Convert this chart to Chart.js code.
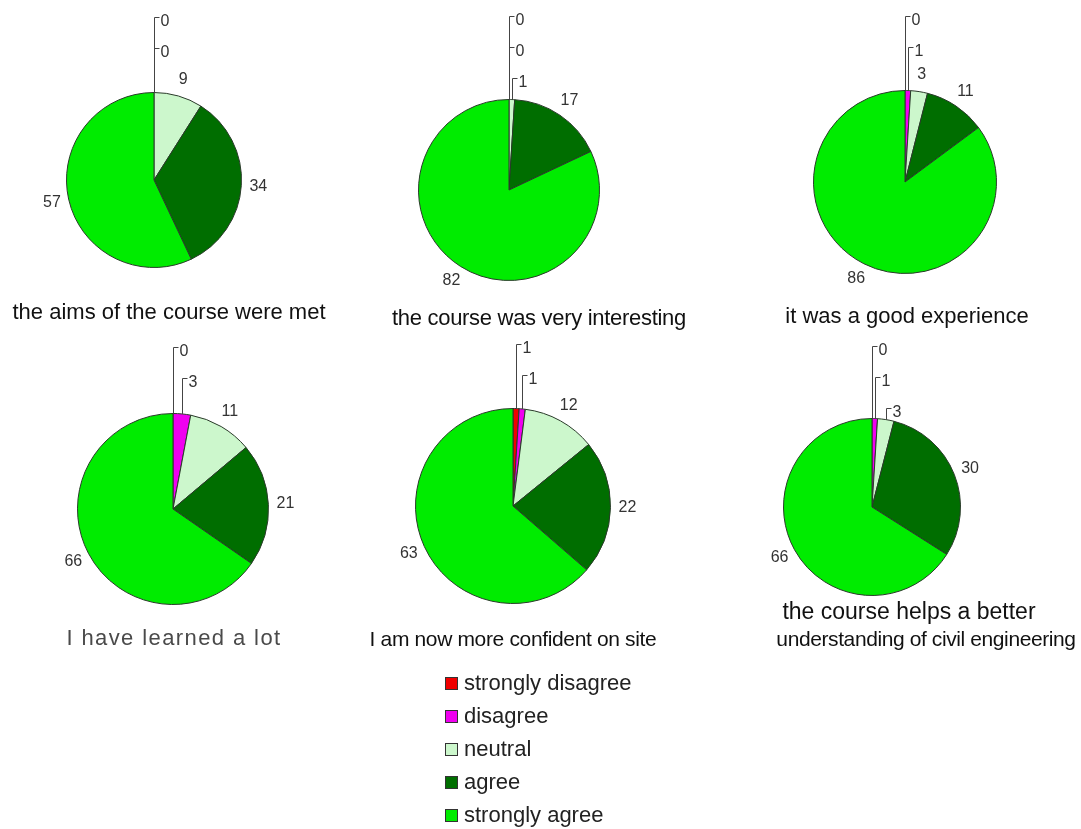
<!DOCTYPE html>
<html>
<head>
<meta charset="utf-8">
<script src="https://cdn.jsdelivr.net/npm/chart.js@4"></script>
<style>
  html, body { margin:0; padding:0; background:#fff; }
  #wrap { position:relative; width:1081px; height:829px; overflow:hidden; font-family:"Liberation Sans", Arial, sans-serif; }
  #wrap canvas { position:absolute; left:0; top:0; }
  .ttl { position:absolute; transform:translate(-50%,-50%); white-space:nowrap; color:#111; line-height:1; }
  .ttl.light { color:#4a4a4a; }
  #legend { position:absolute; left:445px; top:672px; font-size:22px; color:#222; line-height:22px; }
  #legend div { height:33px; display:flex; align-items:flex-start; }
  #legend span.box { width:11px; height:11px; border:1px solid #333; margin-top:5px; margin-right:6px; flex:none; }
</style>
</head>
<body>
<div id="wrap"></div>
<script>
const categories = ['strongly disagree','disagree','neutral','agree','strongly agree'];
const colors = ['#f00000','#f000f0','#ccf7cc','#006e00','#00ec00'];

const titles = [
  ['the aims of the course were met'],
  ['the course was very interesting'],
  ['it was a good experience'],
  ['I have learned a lot'],
  ['I am now more confident on site'],
  ['the course helps a better','understanding of civil engineering']
];

// values per chart, in category order
const aimsMet         = [0, 0, 9, 34, 57];
const veryInteresting = [0, 0, 1, 17, 82];
const goodExperience  = [0, 1, 3, 11, 86];
const learnedALot     = [0, 3, 11, 21, 66];
const moreConfident   = [1, 1, 12, 22, 63];
const betterUnderst   = [0, 1, 3, 30, 66];
const series = [aimsMet, veryInteresting, goodExperience, learnedALot, moreConfident, betterUnderst];

// layout: pie centre/radius, how many leading slices get a leader line, top of leader stack
const W = 1081, H = 829;
const pies = [
  {cx:154, cy:180, r:88, leaders:2, top:17},
  {cx:509, cy:190, r:91, leaders:3, top:16},
  {cx:905, cy:182, r:92, leaders:2, top:16},
  {cx:173, cy:509, r:96, leaders:2, top:347},
  {cx:513, cy:506, r:98, leaders:2, top:344},
  {cx:872, cy:507, r:89, leaders:3, top:346}
];
// title line centres, font size, letter spacing
const titlePos = [
  [[169,312,22,0]], [[539,318,22,-0.3]], [[907,316,22,0]], [[174,638,22,1.4]], [[513,638,21,-0.35]], [[909,611,23,0],[926,638,21,-0.4]]
];

const labelPlugin = {
  id:'pieLabels',
  afterDatasetsDraw(chart){
    const ctx = chart.ctx;
    const cfg = chart.options.plugins.pieLabels;
    const meta = chart.getDatasetMeta(0);
    const data = chart.data.datasets[0].data;
    ctx.save();
    ctx.font = '16px "Liberation Sans", Arial, sans-serif';
    ctx.fillStyle = '#333';
    ctx.strokeStyle = '#444';
    ctx.lineWidth = 1;
    meta.data.forEach((arc, i)=>{
      const p = arc.getProps(['x','y','startAngle','endAngle','outerRadius'], true);
      const mid = (p.startAngle + p.endAngle)/2;
      if(i < cfg.leaders){
        const px = Math.round(p.x + p.outerRadius*Math.cos(mid)) + 0.5;
        const py = p.y + p.outerRadius*Math.sin(mid);
        const ly = Math.round(cfg.top + i*31) + 0.5;
        ctx.beginPath();
        ctx.moveTo(px, py);
        ctx.lineTo(px, ly);
        ctx.lineTo(px+5, ly);
        ctx.stroke();
        ctx.textAlign = 'left';
        ctx.textBaseline = 'middle';
        ctx.fillText(String(data[i]), px+6, ly+4);
      } else {
        const rr = p.outerRadius + 17;
        ctx.textAlign = 'center';
        ctx.textBaseline = 'middle';
        ctx.fillText(String(data[i]), p.x + rr*Math.cos(mid), p.y + rr*Math.sin(mid));
      }
    });
    ctx.restore();
  }
};

const wrap = document.getElementById('wrap');
series.forEach((vals, k)=>{
  const pc = pies[k];
  const cv = document.createElement('canvas');
  cv.width = W; cv.height = H;
  wrap.appendChild(cv);
  new Chart(cv, {
    type:'pie',
    data:{ labels: categories, datasets:[{ data: vals, backgroundColor: colors, borderColor:'#2a3a2a', borderWidth:1 }] },
    options:{
      responsive:false,
      animation:false,
      layout:{ padding:{ left:pc.cx-pc.r, top:pc.cy-pc.r, right:W-pc.cx-pc.r, bottom:H-pc.cy-pc.r } },
      plugins:{
        legend:{ display:false },
        tooltip:{ enabled:false },
        pieLabels:{ leaders:pc.leaders, top:pc.top }
      }
    },
    plugins:[labelPlugin]
  });
  titles[k].forEach((line, j)=>{
    const t = titlePos[k][j];
    const d = document.createElement('div');
    d.className = 'ttl' + (k===3 ? ' light' : '');
    d.textContent = line;
    d.style.left = t[0]+'px';
    d.style.top = t[1]+'px';
    d.style.fontSize = t[2]+'px';
    d.style.letterSpacing = t[3]+'px';
    wrap.appendChild(d);
  });
});

const lg = document.createElement('div');
lg.id = 'legend';
categories.forEach((c, i)=>{
  const row = document.createElement('div');
  const b = document.createElement('span');
  b.className = 'box';
  b.style.background = colors[i];
  const t = document.createElement('span');
  t.textContent = c;
  row.appendChild(b); row.appendChild(t);
  lg.appendChild(row);
});
wrap.appendChild(lg);
</script>
</body>
</html>
